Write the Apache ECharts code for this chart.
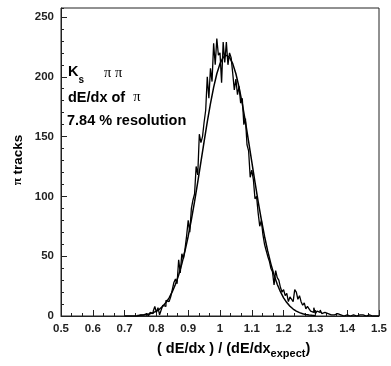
<!DOCTYPE html>
<html><head><meta charset="utf-8">
<script src="https://cdn.jsdelivr.net/npm/echarts@6/dist/echarts.min.js"></script>
<style>html,body{margin:0;padding:0;background:#fff}#c{width:391px;height:366px}</style>
</head><body><div id="c"></div>
<script>
// Histogram: bin left edges start at binStart, width binWidth
const binStart = 0.70;
const binWidth = 0.005;
const counts = [
  0,0,0,0,0,0,0,0,0,1, 0,1,0,2,1,0,3,2,4,8,
  3,7,1,5,9,8,13,12,11,16, 22,28,31,27,47,36,52,48,56,67,
  80,70,90,97,102,125,118,152,145,150, 162,172,200,182,207,196,228,210,232,218,
  220,195,229,212,229,210,220,216,203,189, 198,185,192,178,182,160,165,143,138,116,
  122,114,98,100,86,75,80,68,60,55, 50,46,40,37,26,38,32,30,24,20,
  22,17,19,12,16,14,12,22,20,14, 17,12,9,11,6,8,6,4,3,7,
  2,4,3,5,2,3,3,2,2,1, 2,1,1,2,1,1,1,0,1,1,
  1,0,1,1,1,0,1,1,2,1, 1,0,1,1,0,0,0,0,0,0
];
// Fit curve
const fitStart = 0.74;
const fitStep = 0.01;
const fitValues = [
  0.35,0.55,0.84,1.28,1.92,2.82,4.08,5.81,8.13,11.2,
  15.2,20.3,26.6,34.3,43.6,54.4,66.7,80.6,95.6,112.0,
  128.8,145.8,162.2,177.5,191.1,202.5,211.0,216.2,218,216.2,
  211.0,202.5,191.1,177.5,162.2,145.8,128.8,112.0,95.6,80.6,
  66.7,54.4,43.6,34.3,26.6,20.3,15.2,11.2,8.13,5.81,
  4.08,2.82,1.92,1.28,0.84,0.55,0.35
];
const xMin = 0.5, xMax = 1.5, xInterval = 0.1;
const yMin = 0, yMax = 257.5, yInterval = 50, yMinorInterval = 10;

const histData = counts.map((c, i) => [+(binStart + i * binWidth).toFixed(4), c]);
histData.push([+(binStart + counts.length * binWidth).toFixed(4), counts[counts.length - 1]]);
const fitData = fitValues.map((v, i) => [+(fitStart + i * fitStep).toFixed(4), v]);

const FONT = '"Liberation Sans", Arial, Helvetica, sans-serif';
const SERIF = '"Liberation Serif", "DejaVu Serif", serif';
const chart = echarts.init(document.getElementById('c'), null, {renderer: 'canvas'});
chart.setOption({
  animation: false,
  backgroundColor: '#fff',
  grid: {left: 61, right: 12, top: 8, bottom: 50, show: true, borderColor: '#222', borderWidth: 1, backgroundColor: 'transparent'},
  xAxis: {
    type: 'value', min: xMin, max: xMax, interval: xInterval,
    axisLine: {show: true, lineStyle: {color: '#222', width: 1}},
    axisTick: {inside: true, length: 6, lineStyle: {color: '#222'}},
    minorTick: {show: true, splitNumber: 3, length: 3, lineStyle: {color: '#222'}},
    splitLine: {show: false},
    axisLabel: {margin: 7, fontSize: 11.5, fontWeight: 'bold', color: '#222', fontFamily: FONT}
  },
  yAxis: [{
    type: 'value', min: yMin, max: yMax, interval: yInterval,
    axisLine: {show: true, lineStyle: {color: '#222', width: 1}},
    axisTick: {inside: true, length: 6, lineStyle: {color: '#222'}},
    splitLine: {show: false},
    axisLabel: {margin: 7, fontSize: 11.5, fontWeight: 'bold', color: '#222', fontFamily: FONT, showMaxLabel: false}
  }, {
    type: 'value', position: 'left', offset: 0, min: yMin, max: yMax, interval: yMinorInterval,
    axisLine: {show: false},
    axisTick: {show: true, inside: true, length: 3, lineStyle: {color: '#222'}},
    splitLine: {show: false},
    axisLabel: {show: false}
  }],
  series: [{
    type: 'line', step: 'end', data: histData, symbol: 'none', yAxisIndex: 0,
    lineStyle: {color: '#000', width: 1.3}
  }, {
    type: 'line', data: fitData, symbol: 'none', yAxisIndex: 0,
    lineStyle: {color: '#000', width: 1.5}
  }],
  graphic: [
    {type: 'text', x: 68, y: 72, style: {text: 'K', font: 'bold 14.5px ' + FONT, fill: '#000', verticalAlign: 'middle'}},
    {type: 'text', x: 78.5, y: 80, style: {text: 's', font: 'bold 10px ' + FONT, fill: '#000', verticalAlign: 'middle'}},
    {type: 'text', x: 104, y: 73, style: {text: 'π π', font: '14.5px ' + SERIF, fill: '#000', verticalAlign: 'middle'}},
    {type: 'text', x: 68, y: 97.5, style: {
      text: '{a|dE/dx of  }{b|π}', verticalAlign: 'middle',
      rich: {a: {font: 'bold 14.5px ' + FONT, fill: '#000'}, b: {font: '14.5px ' + SERIF, fill: '#000'}}
    }},
    {type: 'text', x: 67, y: 121, style: {text: '7.84 % resolution', font: 'bold 14.5px ' + FONT, fill: '#000', verticalAlign: 'middle'}},
    {type: 'text', x: 157, y: 349, style: {
      text: '{a|( dE/dx ) / (dE/dx}{b|expect}{a|)}', verticalAlign: 'middle',
      rich: {
        a: {font: 'bold 14.5px ' + FONT, fill: '#000', lineHeight: 20},
        b: {font: 'bold 11px ' + FONT, fill: '#000', lineHeight: 20, verticalAlign: 'bottom'}
      }
    }},
    {type: 'text', x: 18, y: 160, rotation: Math.PI / 2, style: {
      text: '{b|π} {a|tracks}', align: 'center', verticalAlign: 'middle',
      rich: {a: {font: 'bold 13.5px ' + FONT, fill: '#000'}, b: {font: 'bold 13.5px ' + SERIF, fill: '#000'}}
    }}
  ]
});
</script></body></html>
